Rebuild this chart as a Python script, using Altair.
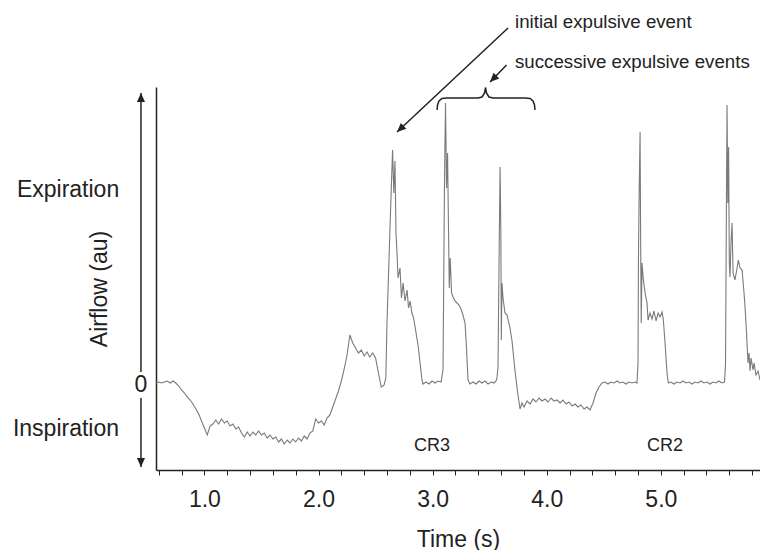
import altair as alt
import pandas as pd

# ---------------- data ----------------
time_s = [
    0.575, 0.600, 0.625, 0.650, 0.675, 0.700, 0.725, 0.750, 0.775, 0.800,
    0.825, 0.850, 0.875, 0.900, 0.925, 0.950, 0.975, 1.000, 1.025, 1.050,
    1.075, 1.100, 1.125, 1.150, 1.175, 1.200, 1.225, 1.250, 1.275, 1.300,
    1.325, 1.350, 1.375, 1.400, 1.425, 1.450, 1.475, 1.500, 1.525, 1.550,
    1.575, 1.600, 1.625, 1.650, 1.675, 1.700, 1.725, 1.750, 1.775, 1.800,
    1.825, 1.850, 1.875, 1.900, 1.925, 1.950, 1.975, 2.000, 2.025, 2.050,
    2.075, 2.100, 2.125, 2.150, 2.175, 2.200, 2.225, 2.250, 2.275, 2.300,
    2.325, 2.350, 2.375, 2.400, 2.425, 2.450, 2.475, 2.500, 2.525, 2.550,
    2.575, 2.590, 2.600, 2.625, 2.649, 2.660, 2.670, 2.679, 2.688, 2.697,
    2.714, 2.727, 2.741, 2.758, 2.776, 2.789, 2.802, 2.819, 2.833, 2.855,
    2.872, 2.890, 2.907, 2.916, 2.942, 2.968, 2.995, 3.021, 3.047, 3.074,
    3.091, 3.104, 3.113, 3.122, 3.131, 3.139, 3.146, 3.154, 3.166, 3.179,
    3.196, 3.214, 3.231, 3.249, 3.266, 3.284, 3.297, 3.310, 3.328, 3.354,
    3.380, 3.407, 3.433, 3.459, 3.486, 3.512, 3.538, 3.556, 3.564, 3.573,
    3.582, 3.591, 3.598, 3.602, 3.608, 3.617, 3.634, 3.652, 3.678, 3.696,
    3.722, 3.748, 3.766, 3.783, 3.801, 3.827, 3.854, 3.880, 3.906, 3.932,
    3.959, 3.985, 4.011, 4.038, 4.064, 4.090, 4.117, 4.143, 4.169, 4.195,
    4.222, 4.248, 4.274, 4.300, 4.327, 4.353, 4.379, 4.406, 4.432, 4.458,
    4.485, 4.511, 4.537, 4.563, 4.590, 4.616, 4.642, 4.668, 4.695, 4.721,
    4.747, 4.774, 4.791, 4.800, 4.804, 4.810, 4.818, 4.823, 4.828, 4.835,
    4.847, 4.862, 4.879, 4.888, 4.905, 4.923, 4.940, 4.958, 4.976, 4.993,
    5.011, 5.022, 5.037, 5.054, 5.066, 5.089, 5.115, 5.142, 5.168, 5.194,
    5.221, 5.247, 5.273, 5.299, 5.326, 5.352, 5.378, 5.404, 5.431, 5.457,
    5.483, 5.510, 5.536, 5.558, 5.567, 5.571, 5.580, 5.587, 5.594, 5.600,
    5.606, 5.615, 5.624, 5.633, 5.650, 5.668, 5.679, 5.694, 5.712, 5.729,
    5.738, 5.751, 5.764, 5.773, 5.782, 5.791, 5.808, 5.817, 5.834, 5.852,
    5.869,
]
airflow = [
    0, 1, 0, 1, 2, 0, 2, 0, -3, -7,
    -10, -14, -17, -21, -26, -31, -38, -45, -52, -43,
    -41, -37, -41, -36, -40, -38, -43, -41, -46, -44,
    -50, -54, -49, -53, -49, -52, -48, -52, -50, -55,
    -52, -56, -54, -59, -56, -61, -57, -60, -56, -59,
    -55, -58, -53, -56, -50, -48, -36, -40, -38, -42,
    -35, -32, -24, -16, -8, 2, 14, 28, 48, 40,
    35, 30, 33, 27, 31, 26, 30, 25, 10, -4,
    -2, 5, 60, 150, 233, 190, 222, 150, 130, 105,
    115, 85, 100, 82, 93, 75, 82, 70, 65, 50,
    38, 20, 3, -1, 1, -1, 2, 0, 2, 1,
    13, 200, 280, 195, 230, 156, 95, 125, 90, 86,
    82, 80, 78, 74, 68, 60, 35, 3, -1, 1,
    -1, 2, 0, 2, -1, 1, 0, 2, 5, 16,
    120, 216, 150, 43, 100, 85, 70, 68, 55, 42,
    12, -12, -26, -20, -24, -18, -21, -16, -19, -15,
    -18, -16, -19, -15, -18, -17, -20, -17, -21, -19,
    -23, -21, -24, -22, -26, -24, -27, -20, -10, -4,
    0, 1, -1, 1, 0, 2, 0, 1, -1, 1,
    0, 1, 0, 20, 126, 190, 251, 143, 60, 120,
    103, 90, 80, 63, 70, 64, 72, 62, 70, 66,
    71, 63, 40, 10, 0, 1, -1, 1, 0, 2,
    0, 1, -1, 1, 0, 2, 0, 1, -1, 1,
    0, 2, 0, 1, 20, 103, 278, 180, 236, 120,
    106, 140, 160, 110, 103, 115, 123, 115, 113, 90,
    76, 50, 20, 30, 12, 25, 13, 20, 8, 12,
    3,
]

x_tick_values = [0.6, 0.8, 1.0, 1.2, 1.4, 1.6, 1.8, 2.0, 2.2, 2.4, 2.6, 2.8,
                 3.0, 3.2, 3.4, 3.6, 3.8, 4.0, 4.2, 4.4, 4.6, 4.8, 5.0, 5.2,
                 5.4, 5.6, 5.8]
x_domain = [0.5758, 5.869]
y_domain = [-87, 296]

# annotation geometry (data units: seconds, au)
brace_t = [3.039, 3.043, 3.056, 3.082, 3.126, 3.398, 3.433, 3.455, 3.464,
           3.472, 3.494, 3.529, 3.810, 3.854, 3.880, 3.893, 3.897]
brace_v = [273, 278, 282, 284.5, 285, 285, 286, 290, 295.5,
           290, 286, 285, 285, 284.5, 282, 278, 273]

arrow_t = [3.661, 3.648, 0.444, 0.444]
arrow_v = [355, 318, 290, -15]
arrow_t2 = [2.688, 3.503, 0.444, 0.444]
arrow_v2 = [251, 301, 11, -84]

head_t = [2.688, 3.503, 0.444, 0.444]
head_v = [251, 301, 290, -84]
head_angle = [227, 225, 0, 180]

left_texts = ["initial expulsive event", "successive expulsive events"]
left_t = [3.722, 3.722]
left_v = [361, 321]

small_texts = ["CR3", "CR2"]
small_t = [2.994, 5.037]
small_v = [-63, -63]

big_texts = ["Expiration", "Inspiration", "0"]
big_t = [-0.195, -0.213, 0.444]
big_v = [193, -46, -2]

ylabel_text = ["Airflow (au)"]
ylabel_t = [0.085]
ylabel_v = [94]

# ---------------- chart ----------------
FONT = "Liberation Sans"
INK = "#222222"

xscale = alt.Scale(domain=x_domain, nice=False, zero=False)
yscale = alt.Scale(domain=y_domain, nice=False, zero=False)

xaxis = alt.Axis(
    values=x_tick_values,
    labelExpr="abs(datum.value - round(datum.value)) < 0.001 ? format(datum.value, '.1f') : ''",
    labelOverlap=False, labelFlush=False,
    tickSize=5, tickColor=INK, tickWidth=1,
    domainColor=INK, domainWidth=1.5,
    labelFont=FONT, labelFontSize=23, labelColor=INK, labelPadding=13,
    title="Time (s)", titleFont=FONT, titleFontSize=23, titleFontWeight="normal",
    titleColor=INK, titlePadding=17, grid=False,
)
yaxis = alt.Axis(labels=False, ticks=False, title=None, grid=False,
                 domainColor=INK, domainWidth=1.5)

X = lambda f="t": alt.X(f"{f}:Q", scale=xscale, axis=xaxis)
Y = lambda f="v": alt.Y(f"{f}:Q", scale=yscale, axis=yaxis)

trace = alt.Chart(pd.DataFrame({"t": time_s, "v": airflow})).mark_line(
    color="#7a7a7a", strokeWidth=1.1
).encode(x=X(), y=Y())

brace = alt.Chart(pd.DataFrame({"t": brace_t, "v": brace_v})).mark_line(
    color=INK, strokeWidth=1.5
).encode(x=X(), y=Y())

arrows = alt.Chart(pd.DataFrame({"t": arrow_t, "v": arrow_v,
                                 "t2": arrow_t2, "v2": arrow_v2})).mark_rule(
    color=INK, strokeWidth=1.5
).encode(x=X(), y=Y(), x2="t2:Q", y2="v2:Q")

heads = alt.Chart(pd.DataFrame({"t": head_t, "v": head_v, "a": head_angle})).mark_point(
    shape="M0,0L-0.45,1L0.45,1Z", filled=True, color=INK, size=324, opacity=1,
    strokeWidth=0
).encode(x=X(), y=Y(), angle=alt.Angle("a:Q", scale=None))

ann_left = alt.Chart(pd.DataFrame({"t": left_t, "v": left_v, "s": left_texts})).mark_text(
    align="left", baseline="middle", font=FONT, fontSize=18.7, color=INK
).encode(x=X(), y=Y(), text="s:N")

ann_small = alt.Chart(pd.DataFrame({"t": small_t, "v": small_v, "s": small_texts})).mark_text(
    align="center", baseline="middle", font=FONT, fontSize=18, color=INK
).encode(x=X(), y=Y(), text="s:N")

ann_big = alt.Chart(pd.DataFrame({"t": big_t, "v": big_v, "s": big_texts})).mark_text(
    align="center", baseline="middle", font=FONT, fontSize=23, color=INK
).encode(x=X(), y=Y(), text="s:N")

ann_ylabel = alt.Chart(pd.DataFrame({"t": ylabel_t, "v": ylabel_v, "s": ylabel_text})).mark_text(
    align="center", baseline="middle", font=FONT, fontSize=23, color=INK, angle=270
).encode(x=X(), y=Y(), text="s:N")

chart = alt.layer(
    trace, brace, arrows, heads, ann_left, ann_small, ann_big, ann_ylabel
).properties(
    width=604, height=383,
    padding={"left": 156, "top": 87, "right": 0, "bottom": 80},
    autosize="none",
    background="white",
).configure_view(stroke=None)

chart.save("out.html", embed_options={"renderer": "svg", "actions": False})
